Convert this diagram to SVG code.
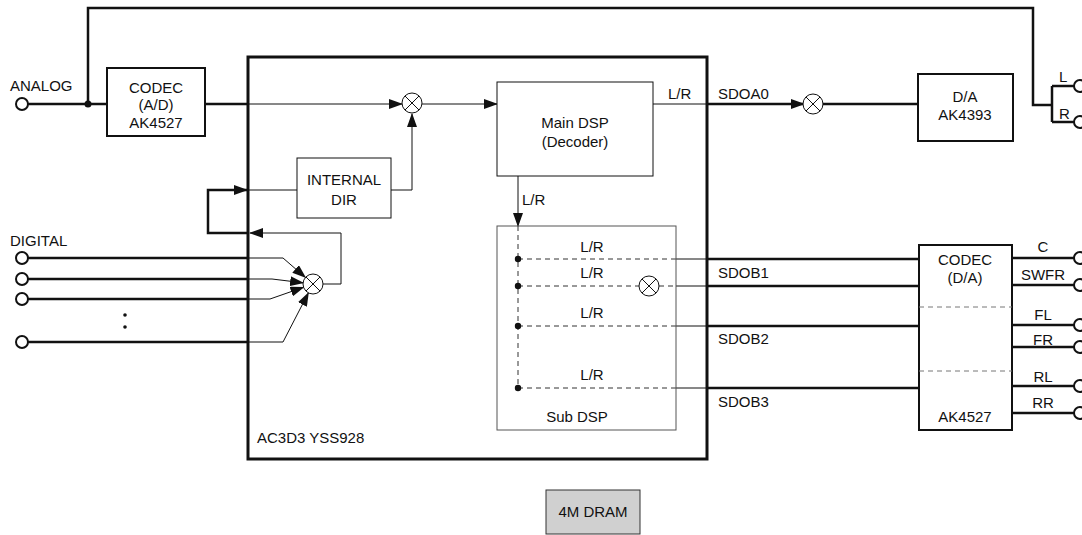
<svg xmlns="http://www.w3.org/2000/svg" width="1082" height="535" viewBox="0 0 1082 535">
<style>
text{font-family:"Liberation Sans",Arial,sans-serif;font-size:15px;fill:#111}
.c{text-anchor:middle}
.thick{fill:none;stroke:#111;stroke-width:2.5}
.thin{fill:none;stroke:#111;stroke-width:1}
.dash{fill:none;stroke:#333;stroke-width:1;stroke-dasharray:5,4}
.box{fill:#fff;stroke:#111;stroke-width:1}
.tbox{fill:#fff;stroke:#111;stroke-width:2}
.mix{fill:#fff;stroke:#111;stroke-width:1}
.term{fill:#fff;stroke:#111;stroke-width:2}
</style>
<defs>
<marker id="ar" markerUnits="userSpaceOnUse" markerWidth="14" markerHeight="10" refX="13" refY="5" orient="auto">
<path d="M0,0 L14,5 L0,10 Z" fill="#111"/>
</marker>
<g id="mx"><circle r="10" class="mix"/><path d="M-7,-7 L7,7 M-7,7 L7,-7" stroke="#111" stroke-width="1"/></g>
</defs>

<g id="connectors">
<line x1="28" y1="104" x2="107" y2="104" class="thick"/>
<polyline points="88,104 88,8 1033,8 1033,105 1052,105" class="thick"/>
<line x1="1052" y1="86" x2="1052" y2="122" class="thick"/>
<line x1="1052" y1="86" x2="1074" y2="86" class="thick"/>
<line x1="1052" y1="122" x2="1074" y2="122" class="thick"/>
<circle cx="88" cy="104" r="3.5" fill="#111"/>
<line x1="205" y1="104" x2="248" y2="104" class="thick"/>
<line x1="248" y1="104" x2="402" y2="104" class="thin" marker-end="url(#ar)"/>
<line x1="422" y1="104" x2="497" y2="104" class="thin" marker-end="url(#ar)"/>
<polyline points="391,190 412,190 412,114" class="thin" marker-end="url(#ar)"/>
<line x1="248" y1="190" x2="297" y2="190" class="thin"/>
<polyline points="248,233 208,233 208,190 247,190" class="thick" marker-end="url(#ar)"/>
<polyline points="323,284 341,284 341,233 250,233" class="thin" marker-end="url(#ar)"/>
<line x1="28" y1="258" x2="248" y2="258" class="thick"/>
<line x1="28" y1="279" x2="248" y2="279" class="thick"/>
<line x1="28" y1="299" x2="248" y2="299" class="thick"/>
<line x1="28" y1="342" x2="248" y2="342" class="thick"/>
<polyline points="248,258 283,258 305.4,277.4" class="thin" marker-end="url(#ar)"/>
<polyline points="248,279 272,279 303.1,282.8" class="thin" marker-end="url(#ar)"/>
<polyline points="248,299 270,299 303.5,287.3" class="thin" marker-end="url(#ar)"/>
<polyline points="248,342 283,342 308.4,292.9" class="thin" marker-end="url(#ar)"/>
<circle cx="125" cy="315" r="1.8" fill="#111"/>
<circle cx="125" cy="327" r="1.8" fill="#111"/>
<line x1="653" y1="104" x2="707" y2="104" class="thin"/>
<line x1="707" y1="104" x2="804" y2="104" class="thick" marker-end="url(#ar)"/>
<line x1="822" y1="104" x2="918" y2="104" class="thick"/>
<line x1="518" y1="176" x2="518" y2="226" class="thin" marker-end="url(#ar)"/>
<line x1="518" y1="226" x2="518" y2="388" class="dash"/>
<line x1="518" y1="259" x2="676" y2="259" class="dash"/>
<line x1="518" y1="286" x2="639" y2="286" class="dash"/>
<line x1="659" y1="286" x2="676" y2="286" class="dash"/>
<line x1="518" y1="326" x2="676" y2="326" class="dash"/>
<line x1="518" y1="388" x2="676" y2="388" class="dash"/>
<circle cx="518" cy="259" r="3.2" fill="#111"/>
<circle cx="518" cy="286" r="3.2" fill="#111"/>
<circle cx="518" cy="326" r="3.2" fill="#111"/>
<circle cx="518" cy="388" r="3.2" fill="#111"/>
<line x1="676" y1="259" x2="707" y2="259" class="thin"/>
<line x1="676" y1="286" x2="707" y2="286" class="thin"/>
<line x1="676" y1="326" x2="707" y2="326" class="thin"/>
<line x1="676" y1="388" x2="707" y2="388" class="thin"/>
<line x1="707" y1="259" x2="919" y2="259" class="thick"/>
<line x1="707" y1="286" x2="919" y2="286" class="thick"/>
<line x1="707" y1="326" x2="919" y2="326" class="thick"/>
<line x1="707" y1="388" x2="919" y2="388" class="thick"/>
<line x1="1012" y1="258" x2="1074" y2="258" class="thick"/>
<line x1="1012" y1="285" x2="1074" y2="285" class="thick"/>
<line x1="1012" y1="325" x2="1074" y2="325" class="thick"/>
<line x1="1012" y1="347" x2="1074" y2="347" class="thick"/>
<line x1="1012" y1="386" x2="1074" y2="386" class="thick"/>
<line x1="1012" y1="413" x2="1074" y2="413" class="thick"/>
</g>

<g id="main-chip">
<rect x="248" y="57" width="459" height="402" fill="none" stroke="#111" stroke-width="3"/>
<text x="257" y="443">AC3D3  YSS928</text>
</g>

<g id="terminals">
<circle cx="22" cy="104" r="6" class="term"/>
<circle cx="22" cy="258" r="6" class="term"/>
<circle cx="22" cy="279" r="6" class="term"/>
<circle cx="22" cy="299" r="6" class="term"/>
<circle cx="22" cy="342" r="6" class="term"/>
<circle cx="1080" cy="86" r="6" class="term"/>
<circle cx="1080" cy="122" r="6" class="term"/>
<circle cx="1080" cy="258" r="6" class="term"/>
<circle cx="1080" cy="285" r="6" class="term"/>
<circle cx="1080" cy="325" r="6" class="term"/>
<circle cx="1080" cy="347" r="6" class="term"/>
<circle cx="1080" cy="386" r="6" class="term"/>
<circle cx="1080" cy="413" r="6" class="term"/>
<text x="10" y="91">ANALOG</text>
<text x="10" y="246">DIGITAL</text>
<text x="1059" y="82">L</text>
<text x="1059" y="119">R</text>
<text x="1043" y="252" class="c">C</text>
<text x="1043" y="280" class="c">SWFR</text>
<text x="1043" y="320" class="c">FL</text>
<text x="1043" y="345" class="c">FR</text>
<text x="1043" y="382" class="c">RL</text>
<text x="1043" y="408" class="c">RR</text>
</g>

<g id="codec-ad">
<rect x="107" y="68" width="98" height="68" class="tbox"/>
<text x="156" y="93" class="c">CODEC</text>
<text x="156" y="110" class="c">(A/D)</text>
<text x="156" y="128" class="c">AK4527</text>
</g>

<g id="mixer-main"><use href="#mx" x="412" y="103"/></g>
<g id="mixer-digital"><use href="#mx" x="313" y="284"/></g>
<g id="mixer-sdoa"><use href="#mx" x="813" y="104"/></g>
<g id="mixer-sub"><use href="#mx" x="649" y="286"/></g>

<g id="internal-dir">
<rect x="297" y="158" width="94" height="60" class="box"/>
<text x="344" y="185" class="c">INTERNAL</text>
<text x="344" y="205" class="c">DIR</text>
</g>

<g id="main-dsp">
<rect x="497" y="82" width="156" height="94" class="box"/>
<text x="575" y="128" class="c">Main DSP</text>
<text x="575" y="147" class="c">(Decoder)</text>
<text x="668" y="99">L/R</text>
<text x="718" y="99">SDOA0</text>
<text x="522" y="205">L/R</text>
</g>

<g id="sub-dsp">
<rect x="497" y="226" width="179" height="204" fill="none" stroke="#555" stroke-width="1"/>
<text x="592" y="252" class="c">L/R</text>
<text x="592" y="278" class="c">L/R</text>
<text x="592" y="318" class="c">L/R</text>
<text x="592" y="380" class="c">L/R</text>
<text x="577" y="422" class="c">Sub DSP</text>
<text x="718" y="278">SDOB1</text>
<text x="718" y="344">SDOB2</text>
<text x="718" y="407">SDOB3</text>
</g>

<g id="da-ak4393">
<rect x="918" y="74" width="95" height="67" class="tbox"/>
<text x="965" y="102" class="c">D/A</text>
<text x="965" y="120" class="c">AK4393</text>
</g>

<g id="codec-da">
<rect x="919" y="245" width="93" height="185" class="tbox"/>
<line x1="919" y1="307" x2="1012" y2="307" stroke="#777" stroke-width="1" stroke-dasharray="5,4"/>
<line x1="919" y1="371" x2="1012" y2="371" stroke="#777" stroke-width="1" stroke-dasharray="5,4"/>
<text x="965" y="265" class="c">CODEC</text>
<text x="965" y="283" class="c">(D/A)</text>
<text x="965" y="422" class="c">AK4527</text>
</g>

<g id="dram">
<rect x="546" y="490" width="94" height="44" fill="#d0d0d0" stroke="#333" stroke-width="1"/>
<text x="593" y="517" class="c">4M DRAM</text>
</g>
</svg>
